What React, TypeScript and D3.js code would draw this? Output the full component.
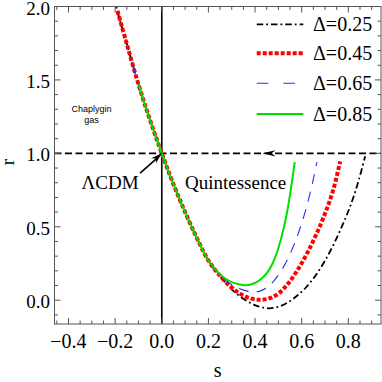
import React from 'react';
import * as d3 from 'd3';

// statefinder r-s trajectories ([s, r] pairs)
const commonPath: [number, number][] = [
  [-0.15, 1.745], [-0.1, 1.47], [-0.05, 1.225], [0, 1.0], [0.05, 0.79],
  [0.1, 0.6], [0.15, 0.425], [0.2, 0.27],
];

const tail025: [number, number][] = [
  [0.25, 0.162], [0.29, 0.09], [0.33, 0.032], [0.37, -0.01], [0.41, -0.04],
  [0.457, -0.055], [0.5, -0.045], [0.54, -0.015], [0.58, 0.03], [0.62, 0.09],
  [0.66, 0.17], [0.7, 0.27], [0.74, 0.39], [0.78, 0.53], [0.815, 0.67],
  [0.845, 0.82], [0.872, 0.98],
];
const tail045: [number, number][] = [
  [0.25, 0.165], [0.29, 0.1], [0.33, 0.05], [0.37, 0.018], [0.415, 0.003],
  [0.46, 0.012], [0.5, 0.045], [0.54, 0.11], [0.58, 0.2], [0.62, 0.31],
  [0.66, 0.44], [0.7, 0.59], [0.735, 0.75], [0.765, 0.945],
];
const tail065: [number, number][] = [
  [0.25, 0.168], [0.29, 0.115], [0.33, 0.08], [0.37, 0.06], [0.395, 0.056],
  [0.42, 0.062], [0.45, 0.085], [0.48, 0.13], [0.51, 0.195], [0.54, 0.28],
  [0.57, 0.39], [0.595, 0.5], [0.62, 0.63], [0.645, 0.79], [0.665, 0.94],
];
const tail085: [number, number][] = [
  [0.25, 0.175], [0.29, 0.13], [0.33, 0.108], [0.365, 0.102], [0.4, 0.118],
  [0.43, 0.15], [0.455, 0.195], [0.475, 0.25], [0.495, 0.33], [0.515, 0.44],
  [0.535, 0.58], [0.553, 0.75], [0.57, 0.94],
];

// where each curve enters the plot (top-left)
const start025: [number, number][] = [[-0.2, 2.06], [-0.195, 2.0]];
const start045: [number, number][] = [[-0.19, 1.97]];
const start065: [number, number][] = [[-0.125, 1.6]];
const start085: [number, number][] = [[-0.1, 1.47]];

const deltaLabels = ['Δ=0.25', 'Δ=0.45', 'Δ=0.65', 'Δ=0.85'];
const xTicks = [-0.4, -0.2, 0.0, 0.2, 0.4, 0.6, 0.8];
const yTicks = [0.0, 0.5, 1.0, 1.5, 2.0];

// annotation anchors (data coords)
const lcdmArrowTail: [number, number] = [-0.093, 0.866];
const lcdmArrowTip: [number, number] = [0, 1];
const flowArrowTip: [number, number] = [0.432, 1];

const W = 382;
const H = 382;
const frame = { left: 54.5, right: 381, top: 6.5, bottom: 324 };
const serif = '"Liberation Serif", "Times New Roman", serif';

const styles = [
  { stroke: '#000', width: 1.8, dash: '6.5,3,1.8,3', legendDash: '6.5,3,1.8,3' },
  { stroke: '#ff0000', width: 4, dash: '4,2', legendDash: '4,2' },
  { stroke: '#2233ff', width: 1.1, dash: '10,8', legendDash: '11.7,15' },
  { stroke: '#00e000', width: 2, dash: 'none', legendDash: 'none' },
];

const App = () => {
  const x = d3.scaleLinear().domain([-0.46, 0.94]).range([frame.left, frame.right]);
  const y = d3.scaleLinear().domain([-0.162, 2.0]).range([frame.bottom, frame.top]);

  const line = d3.line<[number, number]>()
    .x(d => x(d[0]))
    .y(d => y(d[1]))
    .curve(d3.curveCatmullRom.alpha(0.5));

  const series = [
    [...start025, ...commonPath, ...tail025],
    [...start045, ...commonPath, ...tail045],
    [...start065, ...commonPath.filter(p => p[0] > -0.125), ...tail065],
    [...start085, ...commonPath.filter(p => p[0] > -0.1), ...tail085],
  ];

  const xMinor = d3.range(-0.45, 0.94, 0.05).map(v => +v.toFixed(2));
  const yMinor = d3.range(-0.1, 2.01, 0.1).map(v => +v.toFixed(2));
  const isMajorX = (v: number) => xTicks.some(t => Math.abs(t - v) < 1e-6);
  const isMajorY = (v: number) => yTicks.some(t => Math.abs(t - v) < 1e-6);

  const tickColor = '#555';
  const legendY = [24.3, 53.3, 83.3, 114];

  // arrow heads
  const arrowHead = (tip: [number, number], from: [number, number], len: number, half: number) => {
    const tx = x(tip[0]), ty = y(tip[1]);
    const fx = x(from[0]), fy = y(from[1]);
    const dx = tx - fx, dy = ty - fy;
    const d = Math.hypot(dx, dy);
    const ux = dx / d, uy = dy / d;
    const bx = tx - ux * len, by = ty - uy * len;
    const nx = -uy, ny = ux;
    const nb = 0.7;
    return `M${tx},${ty} L${bx + nx * half},${by + ny * half} L${tx - ux * len * nb},${ty - uy * len * nb} L${bx - nx * half},${by - ny * half} Z`;
  };

  return (
    <svg width={W} height={H} style={{ position: 'absolute', left: 0, top: 0, background: '#fff' }}>
      <defs>
        <clipPath id="plotClip">
          <rect x={frame.left} y={frame.top} width={frame.right - frame.left} height={frame.bottom - frame.top} />
        </clipPath>
      </defs>

      {/* reference lines */}
      <line x1={x(0)} x2={x(0)} y1={frame.top} y2={frame.bottom} stroke="#000" strokeWidth={1.6} />
      <line x1={frame.left} x2={frame.right} y1={y(1)} y2={y(1)} stroke="#000" strokeWidth={1.6} strokeDasharray="7,3.5" />

      {/* curves */}
      <g clipPath="url(#plotClip)">
        {series.map((pts, i) => (
          <path key={i} d={line(pts) || ''} fill="none" stroke={styles[i].stroke}
            strokeWidth={styles[i].width} strokeDasharray={styles[i].dash} />
        ))}
      </g>

      {/* arrows */}
      <path d={arrowHead(flowArrowTip, [flowArrowTip[0] + 0.1, 1], 13, 3.2)} fill="#000" />
      <line x1={x(lcdmArrowTail[0])} y1={y(lcdmArrowTail[1])}
        x2={x(lcdmArrowTip[0]) - 5} y2={y(lcdmArrowTip[1]) + 5} stroke="#000" strokeWidth={1.6} />
      <path d={arrowHead(lcdmArrowTip, lcdmArrowTail, 11, 3.5)} fill="#000" />

      {/* frame */}
      <rect x={frame.left} y={frame.top} width={frame.right - frame.left} height={frame.bottom - frame.top}
        fill="none" stroke={tickColor} strokeWidth={1} />
      {xMinor.map(v => {
        const len = isMajorX(v) ? 6 : 3.5;
        return (
          <g key={'xt' + v}>
            <line x1={x(v)} x2={x(v)} y1={frame.bottom} y2={frame.bottom - len} stroke={tickColor} />
            <line x1={x(v)} x2={x(v)} y1={frame.top} y2={frame.top + len} stroke={tickColor} />
          </g>
        );
      })}
      {yMinor.map(v => {
        const len = isMajorY(v) ? 6 : 3.5;
        return (
          <g key={'yt' + v}>
            <line x1={frame.left} x2={frame.left + len} y1={y(v)} y2={y(v)} stroke={tickColor} />
            <line x1={frame.right} x2={frame.right - len} y1={y(v)} y2={y(v)} stroke={tickColor} />
          </g>
        );
      })}

      {/* tick labels */}
      {xTicks.map(v => (
        <text key={'xl' + v} x={x(v)} y={348} textAnchor="middle" fontFamily={serif} fontSize={20}>
          {v < 0 ? '\u2212' + Math.abs(v).toFixed(1) : v.toFixed(1)}
        </text>
      ))}
      {yTicks.map(v => (
        <text key={'yl' + v} x={50} y={y(v) + 8} textAnchor="end" fontFamily={serif} fontSize={19}>
          {v.toFixed(1)}
        </text>
      ))}

      {/* axis titles */}
      <text x={(frame.left + frame.right) / 2} y={377} textAnchor="middle" fontFamily={serif} fontSize={20}>s</text>
      <text transform={`translate(14,${y(0.94)}) rotate(-90)`} textAnchor="middle" fontFamily={serif} fontSize={19}>r</text>

      {/* annotations */}
      <text x={91.5} y={111.5} textAnchor="middle" fontFamily='"Liberation Sans", Arial, sans-serif' fontSize={9}>Chaplygin</text>
      <text x={91.5} y={122.5} textAnchor="middle" fontFamily='"Liberation Sans", Arial, sans-serif' fontSize={9}>gas</text>
      <text x={81.5} y={189} fontFamily={serif} fontSize={19}>ΛCDM</text>
      <text x={185} y={188.5} fontFamily={serif} fontSize={19}>Quintessence</text>

      {/* legend */}
      {deltaLabels.map((lab, i) => (
        <g key={lab}>
          <line x1={256.7} x2={303.3} y1={legendY[i]} y2={legendY[i]} stroke={styles[i].stroke}
            strokeWidth={styles[i].width} strokeDasharray={styles[i].legendDash} />
          <text x={313} y={legendY[i] + 6.8} fontFamily={serif} fontSize={20}>{lab}</text>
        </g>
      ))}
    </svg>
  );
};

export default App;
